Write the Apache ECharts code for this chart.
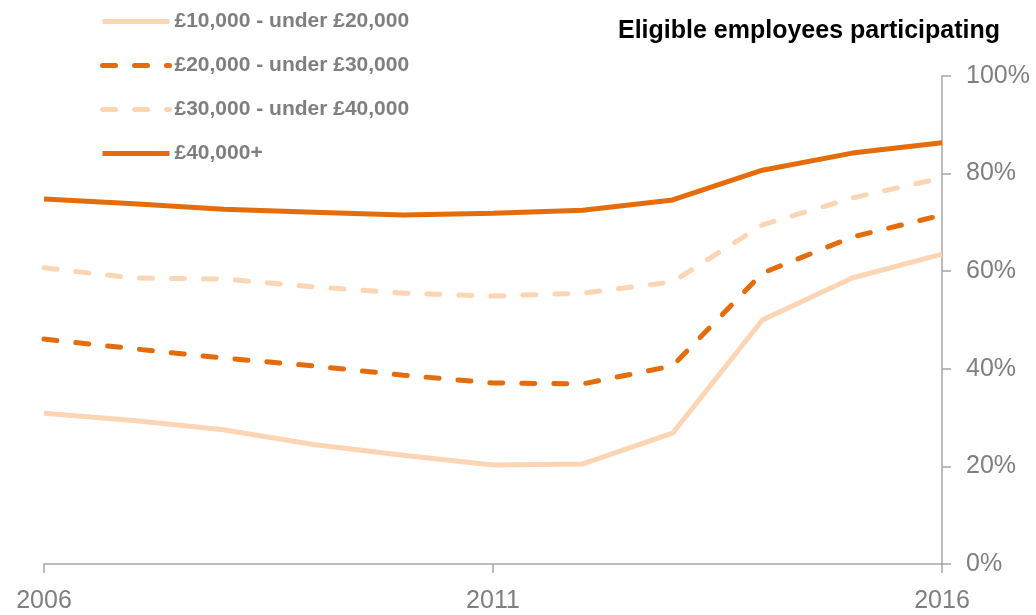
<!DOCTYPE html>
<html>
<head>
<meta charset="utf-8">
<script src="https://cdn.jsdelivr.net/npm/echarts@6/dist/echarts.min.js"></script>
<style>
  html, body { margin: 0; padding: 0; background: #fff; }
  #chart { width: 1036px; height: 615px; }
</style>
</head>
<body>
<div id="chart"></div>
<script>
const years = ['2006', '2007', '2008', '2009', '2010', '2011', '2012', '2013', '2014', '2015', '2016']
const band10to20 = [30.9, 29.4, 27.5, 24.5, 22.3, 20.3, 20.5, 26.8, 50.0, 58.6, 63.5]
const band20to30 = [46.1, 44.1, 42.2, 40.6, 38.7, 37.1, 36.9, 40.6, 59.6, 67.0, 71.5]
const band30to40 = [60.7, 58.6, 58.4, 56.8, 55.5, 54.9, 55.5, 57.8, 69.5, 75.0, 79.1]
const band40plus = [74.8, 73.8, 72.7, 72.1, 71.5, 71.9, 72.5, 74.6, 80.7, 84.2, 86.3]
const seriesNames = ['£10,000 - under £20,000', '£20,000 - under £30,000', '£30,000 - under £40,000', '£40,000+']

const dark = '#e46c0a'
const light = '#fcd5b4'
const grey = '#7f7f7f'
const font = '"Liberation Sans", Arial, sans-serif'

const chart = echarts.init(document.getElementById('chart'))

const makeLine = (name, data, color, dashed) => ({
  name,
  type: 'line',
  data,
  symbol: 'none',
  smooth: false,
  lineStyle: {
    color,
    width: 5,
    type: dashed ? [13, 19] : 'solid',
    cap: dashed ? 'round' : 'butt',
  },
  itemStyle: { color },
})

chart.setOption({
  animation: false,
  backgroundColor: '#fff',
  title: {
    text: 'Eligible employees participating',
    right: 31,
    top: 14,
    textStyle: { color: '#000', fontSize: 25, fontWeight: 'bold', fontFamily: font },
  },
  legend: {
    orient: 'vertical',
    left: 100,
    top: 11,
    padding: 0,
    itemGap: 23,
    itemWidth: 67,
    itemHeight: 22,
    data: seriesNames,
    itemStyle: { opacity: 0 },
    lineStyle: { width: 5 },
    textStyle: { color: grey, fontSize: 21, fontWeight: 'bold', fontFamily: font },
  },
  grid: { left: 44, right: 94, top: 76, bottom: 51, containLabel: false },
  xAxis: {
    type: 'category',
    data: years,
    boundaryGap: false,
    axisLine: { lineStyle: { color: '#a6a6a6', width: 1.5 } },
    axisTick: { interval: 4, length: 9, lineStyle: { color: '#a6a6a6', width: 1.5 } },
    axisLabel: { interval: 4, color: grey, fontSize: 25, fontFamily: font, margin: 25 },
    splitLine: { show: false },
  },
  yAxis: {
    type: 'value',
    position: 'right',
    min: 0,
    max: 100,
    interval: 20,
    axisLine: { show: true, lineStyle: { color: '#a6a6a6', width: 1.5 } },
    axisTick: { show: true, length: 9, lineStyle: { color: '#a6a6a6', width: 1.5 } },
    axisLabel: { formatter: '{value}%', color: grey, fontSize: 25, fontFamily: font, margin: 24 },
    splitLine: { show: false },
  },
  series: [
    makeLine(seriesNames[0], band10to20, light, false),
    makeLine(seriesNames[1], band20to30, dark, true),
    makeLine(seriesNames[2], band30to40, light, true),
    makeLine(seriesNames[3], band40plus, dark, false),
  ],
})
</script>
</body>
</html>
